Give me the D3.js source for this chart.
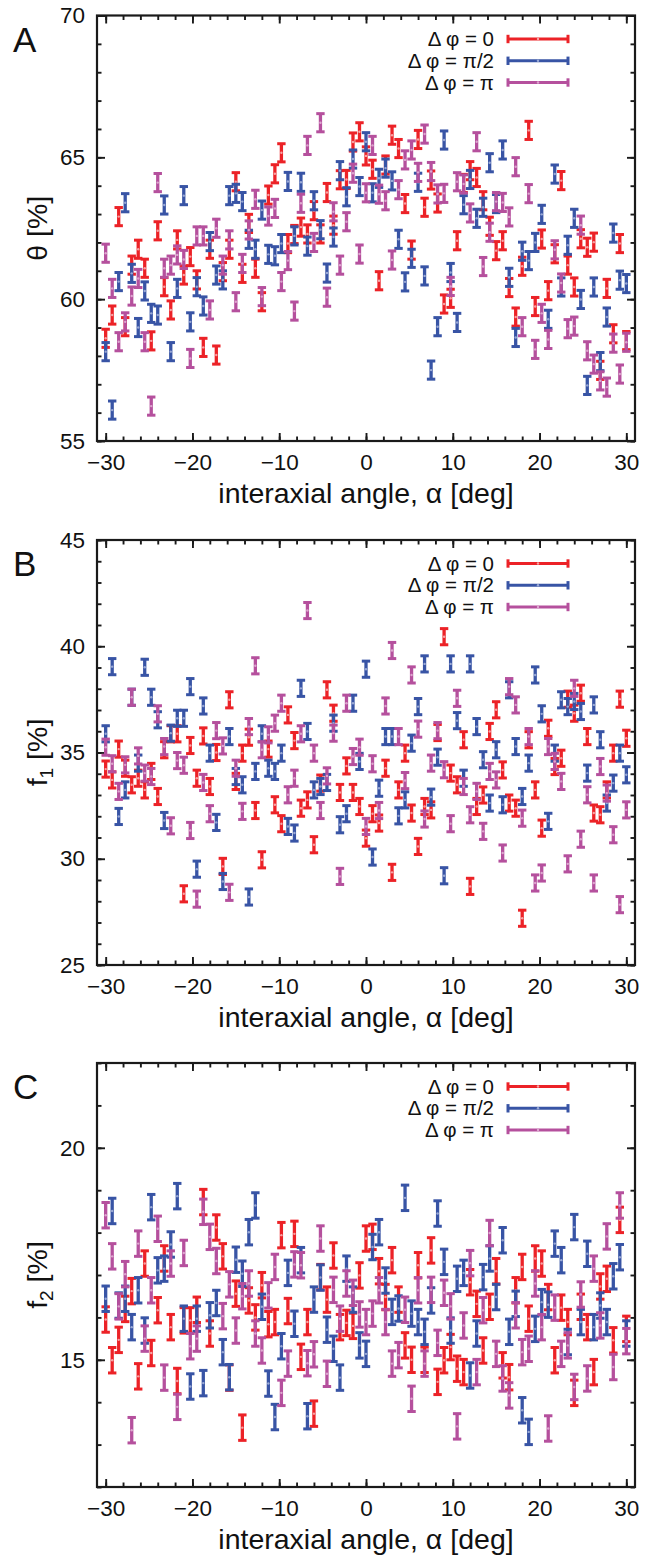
<!DOCTYPE html>
<html><head><meta charset="utf-8">
<script src="https://cdn.jsdelivr.net/npm/d3@7"></script>
<style>body{margin:0;background:#fff} text{font-family:"Liberation Sans",Arial,Helvetica,sans-serif;fill:#111}</style>
</head><body>
<svg id="chart" width="656" height="1560"></svg>
<script>
// interaxial angle alpha [deg]
const alpha = [-30,-29.25,-28.5,-27.75,-27,-26.25,-25.5,-24.75,-24,-23.25,-22.5,-21.75,-21,-20.25,-19.5,-18.75,-18,-17.25,-16.5,-15.75,-15,-14.25,-13.5,-12.75,-12,-11.25,-10.5,-9.75,-9,-8.25,-7.5,-6.75,-6,-5.25,-4.5,-3.75,-3,-2.25,-1.5,-0.75,0,0.75,1.5,2.25,3,3.75,4.5,5.25,6,6.75,7.5,8.25,9,9.75,10.5,11.25,12,12.75,13.5,14.25,15,15.75,16.5,17.25,18,18.75,19.5,20.25,21,21.75,22.5,23.25,24,24.75,25.5,26.25,27,27.75,28.5,29.25,30];

const seriesNames = ["\u0394 \u03C6 = 0", "\u0394 \u03C6 = \u03C0/2", "\u0394 \u03C6 = \u03C0"];

// Panel A: theta [%]
const thetaDphi0 = [58.62,59.44,62.91,59.03,61.20,61.76,61.09,58.53,62.41,60.44,
59.62,62.09,60.85,61.50,60.68,58.30,61.76,58.03,60.97,61.76,
64.14,60.91,62.67,61.09,59.91,63.67,64.42,65.16,61.96,62.28,
62.54,62.30,63.12,62.30,63.76,62.61,64.21,64.22,65.54,65.90,
65.05,64.58,60.65,64.73,65.78,65.31,63.37,61.73,65.63,63.24,
64.20,63.39,59.83,60.03,62.06,64.08,64.53,64.29,63.47,62.57,
61.71,62.06,60.41,59.37,61.16,65.95,59.74,62.12,60.30,61.60,
64.18,61.20,60.43,62.13,61.83,62.01,57.49,60.38,58.78,61.96,
58.54];
const thetaDphiHalfPi = [58.15,56.09,60.62,63.40,60.91,59.00,60.29,59.50,59.44,63.32,
58.15,60.38,63.65,59.20,60.44,59.76,62.03,60.85,60.68,63.65,
63.73,63.44,62.11,61.76,63.14,61.58,61.53,61.96,64.15,62.23,
64.12,61.87,63.47,62.45,60.92,62.19,64.53,63.61,64.94,63.97,
65.55,63.75,64.26,64.62,64.17,62.11,60.61,61.44,64.12,60.82,
57.50,59.03,65.61,60.94,59.18,63.33,64.22,62.85,63.24,64.81,
63.37,65.26,60.77,58.65,61.69,61.36,62.00,62.99,59.29,64.41,
60.43,61.90,62.85,59.99,56.96,60.43,57.80,59.37,62.33,60.67,
60.55];
const thetaDphiPi = [61.62,60.38,58.50,59.20,60.11,60.73,58.50,56.23,64.11,61.09,
61.20,61.56,61.40,57.91,62.23,62.23,59.62,62.50,61.20,62.09,
59.91,61.26,62.44,63.52,60.09,62.93,63.20,60.62,61.36,59.58,
63.38,65.42,62.00,66.22,60.07,63.08,61.20,62.73,64.44,61.59,
63.75,65.42,63.70,63.47,61.38,63.86,64.91,65.26,64.47,65.82,
64.50,63.71,63.73,60.45,64.14,64.06,63.04,65.55,61.15,62.36,
63.44,63.41,62.90,64.67,59.03,63.72,58.23,59.50,58.58,61.74,
60.57,58.96,59.05,62.61,58.18,57.71,57.12,56.90,58.45,57.36,
58.48];
const thetaError = 0.32;

// Panel B: f1 [%]
const f1Dphi0 = [34.22,33.71,35.16,34.26,33.48,33.79,33.24,34.11,32.93,35.13,
35.88,35.88,28.35,35.33,33.79,35.78,33.40,35.00,29.64,37.48,
33.64,34.97,35.72,32.27,29.95,35.16,32.54,31.65,36.77,35.56,
32.38,32.77,30.66,33.56,37.95,36.85,33.12,34.37,33.12,32.46,
30.97,32.12,31.68,34.26,29.36,33.24,34.97,32.15,30.58,32.46,
32.30,35.94,40.45,34.03,33.48,35.60,28.70,32.46,33.00,35.99,
37.01,34.18,32.62,32.38,27.20,35.60,33.24,31.44,36.14,34.34,
34.73,37.51,36.85,37.79,35.75,32.15,32.07,33.24,34.97,37.51,
35.67];
const f1DphiHalfPi = [35.88,39.04,31.99,33.24,37.60,34.50,39.01,37.60,36.54,31.80,
35.91,36.61,36.61,38.10,29.51,37.19,34.97,31.71,28.93,35.75,
33.87,33.48,28.20,34.11,35.88,34.26,34.11,34.97,31.52,31.21,
38.02,35.99,33.24,33.40,33.59,36.38,31.60,32.12,37.32,34.58,
38.92,30.08,33.32,35.75,35.75,32.02,32.77,35.44,37.16,39.17,
32.90,34.78,29.20,39.17,36.50,33.79,39.17,36.22,34.66,32.62,
35.13,32.54,37.95,35.28,32.93,34.50,38.65,36.82,31.76,34.97,
37.48,37.16,37.40,36.93,34.03,37.24,35.60,32.62,33.56,34.97,
33.95];
const f1DphiPi = [35.25,34.47,33.17,34.42,37.60,34.84,34.03,33.87,36.82,35.28,
31.55,34.62,34.40,31.33,28.10,33.59,32.12,36.03,35.31,28.42,
34.26,32.23,36.22,39.08,35.13,35.83,36.38,37.32,33.01,33.79,
35.88,41.68,34.97,32.27,33.90,35.91,29.17,37.32,34.81,35.25,
31.52,34.47,32.27,37.19,39.80,35.75,33.68,38.65,36.10,31.87,
34.50,36.03,34.19,31.65,37.55,33.40,32.07,33.17,31.29,34.11,
33.71,30.27,38.10,37.24,31.91,35.75,28.86,29.33,35.28,34.58,
33.64,29.76,38.02,30.92,33.01,28.86,34.34,33.09,31.13,27.84,
32.30];
const f1Error = 0.38;

// Panel C: f2 [%]
const f2Dphi0 = [15.95,14.99,15.47,16.20,16.62,14.61,17.27,15.16,16.17,17.39,
15.77,14.50,15.93,15.93,16.18,18.72,15.62,18.12,17.44,14.58,
16.56,13.40,16.40,16.00,16.76,15.84,15.89,17.94,16.15,17.97,
15.07,15.89,13.73,16.95,16.42,17.46,15.77,15.87,15.80,16.99,
17.86,17.90,17.09,16.48,17.35,16.42,15.34,15.00,17.23,15.00,
17.58,14.48,14.99,15.30,14.79,14.71,16.83,16.32,15.22,16.25,
17.09,14.87,14.59,16.64,17.19,15.97,17.39,17.27,16.48,14.99,
16.23,15.89,14.22,16.25,15.77,14.71,16.73,16.91,15.46,18.30,
15.73];
const f2DphiHalfPi = [16.44,18.51,16.28,16.44,15.77,16.64,15.69,18.60,17.11,17.15,
17.72,18.86,15.97,14.37,15.97,14.45,16.05,16.34,15.18,14.59,
17.36,17.03,18.01,18.64,16.25,14.44,13.65,15.32,17.05,15.85,
17.35,13.67,16.42,16.94,15.71,15.26,14.58,17.15,16.42,15.34,
15.14,17.66,18.01,16.87,16.13,16.21,18.82,16.09,15.89,15.66,
16.40,18.45,17.31,15.69,16.91,17.05,14.63,15.62,16.95,17.39,
16.48,17.82,15.66,16.32,13.81,13.30,15.73,16.36,16.30,17.74,
17.35,15.42,18.13,15.89,17.50,15.77,16.28,15.89,16.97,17.42,
15.62];
const f2DphiPi = [18.41,17.44,16.26,17.02,13.34,17.74,15.50,16.64,18.09,14.58,
17.27,13.89,17.52,15.32,15.50,18.49,17.90,17.33,16.03,16.78,
15.69,16.50,16.80,15.62,15.22,16.52,17.19,14.22,14.91,17.25,
17.23,14.92,15.13,17.86,14.67,16.65,15.97,16.80,16.58,16.07,
15.89,16.09,16.64,15.89,14.91,15.11,16.18,14.08,16.64,14.91,
16.65,15.40,16.58,16.26,13.43,15.81,17.28,14.71,16.17,17.99,
15.14,14.56,14.16,16.05,15.18,15.26,16.80,15.77,13.38,16.23,
15.14,15.34,14.36,16.54,14.56,17.15,15.81,17.91,14.83,18.64,
15.44];
const f2Error = 0.30;

const xTicks = [-30,-20,-10,0,10,20,30];
const thetaTicks = [55,60,65,70];
const f1Ticks = [25,30,35,40,45];
const f2Ticks = [15,20];

// ---------------- drawing ----------------
const colors = ["#ec2227", "#3854a5", "#b5509d"];
const dotColors = ["#f7a3a5", "#9aa9d6", "#dda6cf"];
const svg = d3.select("#chart");
const x = d3.scaleLinear().domain([-31, 31]).range([97, 635]);
const xMinor = d3.range(-30, 31, 2);

const panels = [
  {letter:"A", top:15.5, bottom:441, domain:[55,70], ticks:thetaTicks, label:"\u03B8 [%]", sub:null,
   data:[thetaDphi0, thetaDphiHalfPi, thetaDphiPi], err:thetaError},
  {letter:"B", top:540, bottom:965, domain:[25,45], ticks:f1Ticks, label:"f", sub:"1",
   data:[f1Dphi0, f1DphiHalfPi, f1DphiPi], err:f1Error},
  {letter:"C", top:1063, bottom:1487, domain:[12,22], ticks:f2Ticks, label:"f", sub:"2",
   data:[f2Dphi0, f2DphiHalfPi, f2DphiPi], err:f2Error}
];

function styleAxis(g){
  g.select(".domain").remove();
  g.selectAll(".tick line").attr("stroke","#1a1a1a").attr("stroke-width",1.9);
  g.selectAll(".tick text").attr("font-size","22.5px").attr("fill","#111")
    .attr("font-family",'"Liberation Sans",Arial,Helvetica,sans-serif');
}

panels.forEach(p => {
  const y = d3.scaleLinear().domain(p.domain).range([p.bottom, p.top]);
  const yMinor = d3.range(Math.ceil(p.domain[0]), p.domain[1] + 0.001, 1);
  const g = svg.append("g");

  // minor ticks
  g.append("g").attr("transform",`translate(0,${p.bottom})`)
    .call(d3.axisBottom(x).tickValues(xMinor).tickSize(-4.5).tickFormat("")).call(styleAxis);
  g.append("g").attr("transform",`translate(0,${p.top})`)
    .call(d3.axisTop(x).tickValues(xMinor).tickSize(-4.5).tickFormat("")).call(styleAxis);
  g.append("g").attr("transform",`translate(${x.range()[0]},0)`)
    .call(d3.axisLeft(y).tickValues(yMinor).tickSize(-4.5).tickFormat("")).call(styleAxis);
  g.append("g").attr("transform",`translate(${x.range()[1]},0)`)
    .call(d3.axisRight(y).tickValues(yMinor).tickSize(-4.5).tickFormat("")).call(styleAxis);

  // major ticks
  g.append("g").attr("transform",`translate(0,${p.bottom})`)
    .call(d3.axisBottom(x).tickValues(xTicks).tickSize(-8).tickPadding(13).tickFormat(d3.format("d"))).call(styleAxis);
  g.append("g").attr("transform",`translate(0,${p.top})`)
    .call(d3.axisTop(x).tickValues(xTicks).tickSize(-8).tickFormat("")).call(styleAxis);
  g.append("g").attr("transform",`translate(${x.range()[0]},0)`)
    .call(d3.axisLeft(y).tickValues(p.ticks).tickSize(-8).tickPadding(12).tickFormat(d3.format("d"))).call(styleAxis);
  g.append("g").attr("transform",`translate(${x.range()[1]},0)`)
    .call(d3.axisRight(y).tickValues(p.ticks).tickSize(-8).tickFormat("")).call(styleAxis);

  // frame
  g.append("rect").attr("x",x.range()[0]).attr("y",p.top)
    .attr("width",x.range()[1]-x.range()[0]).attr("height",p.bottom-p.top)
    .attr("fill","none").attr("stroke","#1a1a1a").attr("stroke-width",2.2);

  // error bars
  const capW = 4.2;
  p.data.forEach((vals, si) => {
    const sg = g.append("g");
    vals.forEach((v, i) => {
      const cx = x(alpha[i]);
      const y1 = y(v - p.err), y2 = y(v + p.err);
      sg.append("line").attr("x1",cx).attr("x2",cx).attr("y1",y1).attr("y2",y2)
        .attr("stroke",colors[si]).attr("stroke-width",3.3);
      [y1,y2].forEach(yy => sg.append("line").attr("x1",cx-capW).attr("x2",cx+capW)
        .attr("y1",yy).attr("y2",yy).attr("stroke",colors[si]).attr("stroke-width",3));
      sg.append("circle").attr("cx",cx).attr("cy",y(v)).attr("r",1.2).attr("fill",dotColors[si]);
    });
  });

  // legend
  const legOff = [23.5, 45.3, 67];
  seriesNames.forEach((name, si) => {
    const ly = p.top + legOff[si];
    g.append("text").attr("x",494).attr("y",ly+7).attr("text-anchor","end")
      .attr("font-size","20.5px").text(name);
    g.append("line").attr("x1",508).attr("x2",568).attr("y1",ly).attr("y2",ly)
      .attr("stroke",colors[si]).attr("stroke-width",3);
    [508,568].forEach(xx => g.append("line").attr("x1",xx).attr("x2",xx)
      .attr("y1",ly-4.2).attr("y2",ly+4.2).attr("stroke",colors[si]).attr("stroke-width",3));
    g.append("circle").attr("cx",538).attr("cy",ly).attr("r",1.2).attr("fill",dotColors[si]);
  });

  // panel letter
  g.append("text").attr("x",13).attr("y",p.top+36).attr("font-size","35px").text(p.letter);

  // axis titles
  g.append("text").attr("x",(x.range()[0]+x.range()[1])/2).attr("y",p.bottom+62)
    .attr("text-anchor","middle").attr("font-size","28.5px").text("interaxial angle, \u03B1 [deg]");
  const yt = g.append("text").attr("transform",`translate(47,${(p.top+p.bottom)/2}) rotate(-90)`)
    .attr("text-anchor","middle").attr("font-size","28.5px");
  if (p.sub) {
    yt.append("tspan").text(p.label);
    yt.append("tspan").attr("font-size","19px").attr("dy","6").text(p.sub);
    yt.append("tspan").attr("dy","-6").text(" [%]");
  } else {
    yt.text(p.label);
  }
});
</script>
</body></html>
